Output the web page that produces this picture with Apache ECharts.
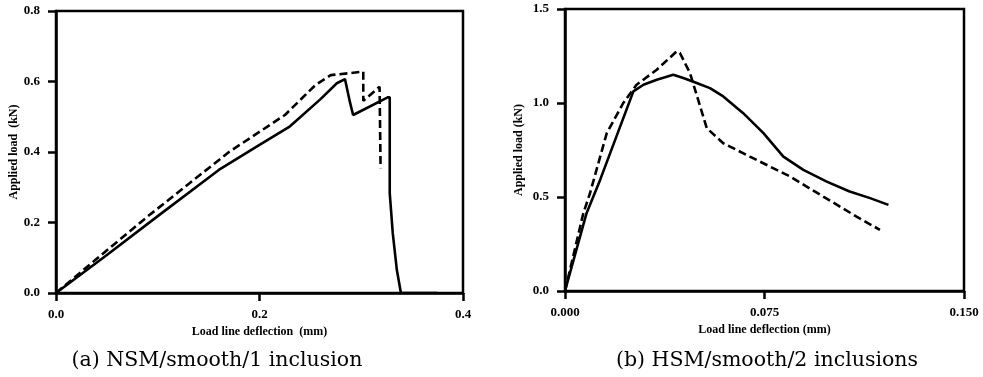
<!DOCTYPE html>
<html>
<head>
<meta charset="utf-8">
<script src="https://cdn.jsdelivr.net/npm/echarts@6/dist/echarts.min.js"></script>
<style>
  html, body { margin: 0; padding: 0; background: #fff; }
  #chart { width: 983px; height: 377px; }
</style>
</head>
<body>
<div id="chart"></div>
<script>
// (a) NSM/smooth/1 inclusion  [deflection mm, load kN]
const nsmSolid = [
  [0, 0], [0.05, 0.108], [0.10, 0.218], [0.16, 0.349], [0.20, 0.42], [0.23, 0.473],
  [0.26, 0.55], [0.276, 0.595], [0.284, 0.607], [0.289, 0.54], [0.292, 0.505],
  [0.326, 0.555], [0.328, 0.555], [0.328, 0.283], [0.331, 0.169], [0.335, 0.065],
  [0.339, 0.0], [0.375, 0.0]
];
const nsmDashed = [
  [0, 0], [0.04, 0.097], [0.09, 0.217], [0.17, 0.40], [0.225, 0.505], [0.255, 0.59],
  [0.27, 0.618], [0.302, 0.628], [0.302, 0.545], [0.318, 0.585], [0.319, 0.585],
  [0.319, 0.354]
];

// (b) HSM/smooth/2 inclusions
const hsmSolid = [
  [0, 0], [0.0081, 0.414], [0.0132, 0.591], [0.0257, 1.062], [0.0295, 1.097],
  [0.0345, 1.124], [0.0407, 1.150], [0.0445, 1.133], [0.0495, 1.106], [0.0545, 1.079],
  [0.0595, 1.035], [0.067, 0.946], [0.0746, 0.840], [0.0821, 0.715], [0.0896, 0.644],
  [0.0984, 0.582], [0.107, 0.529], [0.1147, 0.494], [0.1216, 0.458]
];
const hsmDashed = [
  [0, 0], [0.0069, 0.414], [0.0094, 0.52], [0.0157, 0.84], [0.0219, 1.0],
  [0.0269, 1.097], [0.0345, 1.177], [0.042, 1.275], [0.0432, 1.266], [0.047, 1.159],
  [0.0508, 0.982], [0.0533, 0.866], [0.0595, 0.786], [0.0695, 0.715], [0.0846, 0.609],
  [0.0971, 0.502], [0.1096, 0.396], [0.1184, 0.325]
];

const xTicksA = ['0.0', '0.2', '0.4'];
const yTicksA = ['0.0', '0.2', '0.4', '0.6', '0.8'];
const xTicksB = ['0.000', '0.075', '0.150'];
const yTicksB = ['0.0', '0.5', '1.0', '1.5'];

const captions = ['(a) NSM/smooth/1 inclusion', '(b) HSM/smooth/2 inclusions'];
const xName = ['Load line deflection  (mm)', 'Load line deflection (mm)'];
const yName = ['Applied load  (kN)', 'Applied load (kN)'];

const labelFont = { color: '#000', fontFamily: 'Liberation Serif', fontWeight: 'bold', fontSize: 13 };
const nameFont = { color: '#000', fontFamily: 'Liberation Serif', fontWeight: 'bold', fontSize: 12 };

function xAxisFor(idx, max, interval, ticks) {
  return {
    type: 'value', gridIndex: idx, min: 0, max: max, interval: interval,
    name: xName[idx], nameLocation: 'middle', nameGap: 33, nameTextStyle: nameFont,
    axisLine: { show: true, onZero: false, lineStyle: { color: '#000', width: 2.5 } },
    axisTick: { show: true, length: 8, lineStyle: { color: '#000', width: 2.5 } },
    axisLabel: { ...labelFont, margin: 15, formatter: (v) => ticks[Math.round(v / interval)] },
    splitLine: { show: false }
  };
}
function yAxisFor(idx, max, interval, ticks, gap) {
  return {
    type: 'value', gridIndex: idx, min: 0, max: max, interval: interval,
    name: yName[idx], nameLocation: 'middle', nameGap: gap, nameTextStyle: nameFont,
    axisLine: { show: true, onZero: false, lineStyle: { color: '#000', width: 2.5 } },
    axisTick: { show: true, length: 8, lineStyle: { color: '#000', width: 2.5 } },
    axisLabel: { ...labelFont, margin: 16, formatter: (v) => ticks[Math.round(v / interval)] },
    splitLine: { show: false }
  };
}

function lineSeries(idx, data, dashed) {
  return {
    type: 'line', xAxisIndex: idx, yAxisIndex: idx, data: data,
    showSymbol: false, symbol: 'none', smooth: false, animation: false,
    lineStyle: { color: '#000', width: 2.6, type: dashed ? [8, 4] : 'solid' }
  };
}

const chart = echarts.init(document.getElementById('chart'), null, { renderer: 'canvas' });
chart.setOption({
  backgroundColor: '#fff',
  animation: false,
  grid: [
    { left: 56, right: 520, top: 11, bottom: 84, show: true, borderColor: '#000', borderWidth: 2.5 },
    { left: 565, right: 19, top: 9, bottom: 86, show: true, borderColor: '#000', borderWidth: 2.5 }
  ],
  xAxis: [xAxisFor(0, 0.4, 0.2, xTicksA), xAxisFor(1, 0.15, 0.075, xTicksB)],
  yAxis: [yAxisFor(0, 0.8, 0.2, yTicksA, 34), yAxisFor(1, 1.5, 0.5, yTicksB, 40)],
  series: [
    lineSeries(0, nsmSolid, false),
    lineSeries(0, nsmDashed, true),
    lineSeries(1, hsmSolid, false),
    lineSeries(1, hsmDashed, true)
  ],
  graphic: [
    { type: 'text', x: 217, y: 350,
      style: { text: captions[0], fill: '#000', font: '20.5px "DejaVu Serif"', align: 'center', verticalAlign: 'top' } },
    { type: 'text', x: 767, y: 350,
      style: { text: captions[1], fill: '#000', font: '20.5px "DejaVu Serif"', align: 'center', verticalAlign: 'top' } }
  ]
});
</script>
</body>
</html>
